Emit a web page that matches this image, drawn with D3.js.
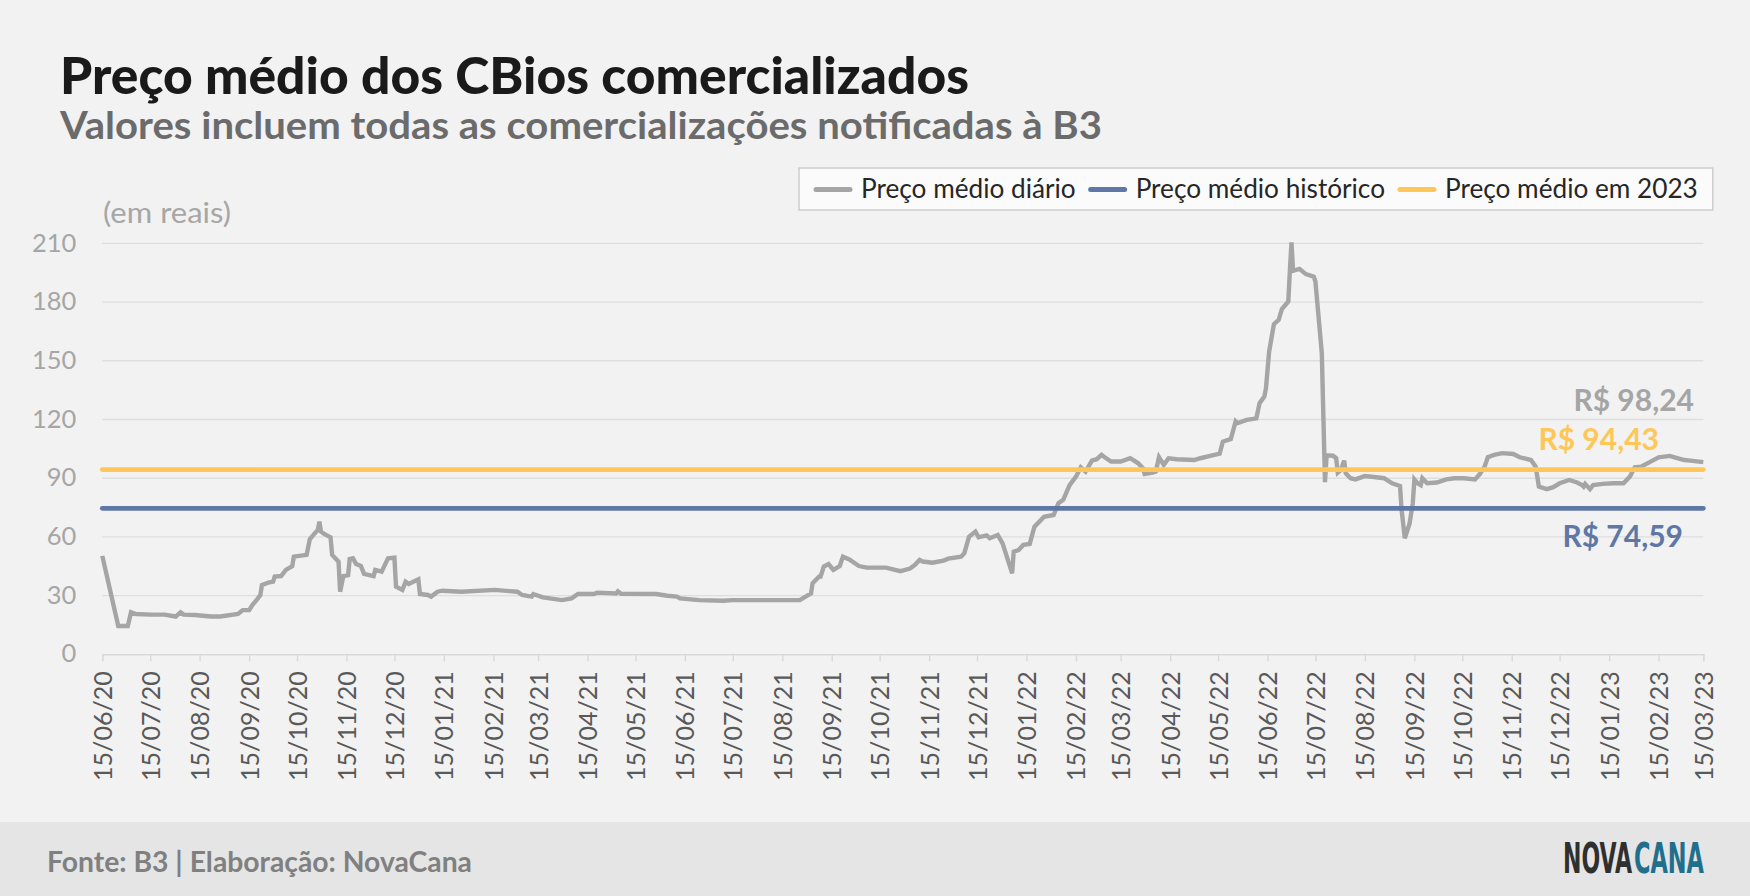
<!DOCTYPE html>
<html>
<head>
<meta charset="utf-8">
<script src="https://cdn.jsdelivr.net/npm/d3@7"></script>
<style>
  body { margin: 0; background: #f2f2f2; }
  svg { display: block; font-family: Lato, "Noto Sans", sans-serif; }
</style>
</head>
<body>
<svg id="chart" width="1750" height="896"></svg>
<script>
// preço médio diário dos CBios
var dias = [
  "2020-06-15","2020-06-25","2020-07-01","2020-07-03","2020-07-06","2020-07-15","2020-07-24","2020-07-31",
  "2020-08-03","2020-08-05","2020-08-12","2020-08-22","2020-08-28","2020-09-08","2020-09-11","2020-09-15",
  "2020-09-17","2020-09-20","2020-09-22","2020-09-23","2020-09-27","2020-09-30","2020-10-01","2020-10-05",
  "2020-10-08","2020-10-12","2020-10-13","2020-10-21","2020-10-23","2020-10-26","2020-10-28","2020-10-29",
  "2020-10-30","2020-11-01","2020-11-05","2020-11-06","2020-11-10","2020-11-11","2020-11-13","2020-11-16",
  "2020-11-17","2020-11-19","2020-11-21","2020-11-24","2020-11-26","2020-12-02","2020-12-03","2020-12-07",
  "2020-12-11","2020-12-15","2020-12-16","2020-12-20","2020-12-22","2020-12-24","2020-12-30","2020-12-31",
  "2021-01-05","2021-01-07","2021-01-11","2021-01-14","2021-01-26","2021-02-16","2021-02-25","2021-03-02",
  "2021-03-05","2021-03-11","2021-03-12","2021-03-18","2021-03-30","2021-04-05","2021-04-09","2021-04-19",
  "2021-04-21","2021-05-03","2021-05-04","2021-05-06","2021-05-28","2021-06-04","2021-06-10","2021-06-12",
  "2021-06-24","2021-07-09","2021-07-15","2021-08-26","2021-09-02","2021-09-03","2021-09-07","2021-09-08",
  "2021-09-10","2021-09-13","2021-09-16","2021-09-20","2021-09-22","2021-09-26","2021-10-02","2021-10-07",
  "2021-10-19","2021-10-28","2021-11-03","2021-11-06","2021-11-09","2021-11-11","2021-11-17","2021-11-24",
  "2021-11-27","2021-12-05","2021-12-07","2021-12-10","2021-12-14","2021-12-16","2021-12-21","2021-12-23",
  "2021-12-28","2021-12-31","2022-01-06","2022-01-07","2022-01-10","2022-01-13","2022-01-17","2022-01-20",
  "2022-01-26","2022-02-01","2022-02-04","2022-02-07","2022-02-11","2022-02-15","2022-02-18","2022-02-21",
  "2022-02-25","2022-02-28","2022-03-03","2022-03-05","2022-03-09","2022-03-15","2022-03-21","2022-03-26",
  "2022-03-29","2022-03-30","2022-04-04","2022-04-06","2022-04-08","2022-04-11","2022-04-14","2022-04-19",
  "2022-04-30","2022-05-04","2022-05-10","2022-05-16","2022-05-18","2022-05-23","2022-05-26","2022-05-27",
  "2022-06-02","2022-06-08","2022-06-10","2022-06-13","2022-06-14","2022-06-16","2022-06-19","2022-06-22",
  "2022-06-24","2022-06-28","2022-06-29","2022-06-30","2022-07-01","2022-07-05","2022-07-09","2022-07-14",
  "2022-07-15","2022-07-19","2022-07-21","2022-07-22","2022-07-26","2022-07-28","2022-07-29","2022-07-31",
  "2022-08-02","2022-08-03","2022-08-06","2022-08-09","2022-08-15","2022-08-22","2022-08-27","2022-09-01",
  "2022-09-06","2022-09-07","2022-09-09","2022-09-12","2022-09-14","2022-09-15","2022-09-17","2022-09-19",
  "2022-09-20","2022-09-23","2022-09-29","2022-10-05","2022-10-10","2022-10-16","2022-10-23","2022-10-26",
  "2022-10-29","2022-10-31","2022-11-04","2022-11-09","2022-11-16","2022-11-20","2022-11-27","2022-11-30",
  "2022-12-02","2022-12-07","2022-12-11","2022-12-15","2022-12-21","2022-12-26","2022-12-29","2022-12-30",
  "2022-12-31","2023-01-03","2023-01-05","2023-01-11","2023-01-18","2023-01-24","2023-01-28","2023-01-31",
  "2023-02-04","2023-02-10","2023-02-15","2023-02-22","2023-02-25","2023-03-03","2023-03-07","2023-03-15"
];
var precos = [
  50.3, 14.5, 14.5, 21.5, 20.6, 20.3, 20.3, 19.3,
  21.5, 20.3, 20.1, 19.3, 19.3, 20.6, 22.6, 22.6,
  25.2, 28.1, 30.3, 35.4, 36.6, 37.1, 39.7, 40.0,
  43.1, 45.1, 49.9, 50.8, 58.8, 61.8, 63.5, 67.8,
  62.7, 61.5, 59.8, 50.8, 47.3, 32.0, 40.0, 40.5,
  48.7, 49.1, 46.1, 45.1, 41.1, 40.0, 43.1, 42.2,
  49.1, 49.4, 34.6, 32.9, 37.1, 35.9, 38.3, 30.8,
  30.3, 29.5, 32.0, 32.5, 32.0, 32.9, 32.3, 32.0,
  30.3, 29.5, 30.8, 29.1, 27.7, 28.6, 30.8, 30.8,
  31.5, 31.1, 32.2, 30.9, 30.8, 29.9, 29.5, 28.6,
  27.7, 27.4, 27.7, 27.7, 31.1, 36.3, 39.7, 39.7,
  44.8, 46.1, 43.1, 45.1, 49.9, 48.5, 45.1, 44.3,
  44.3, 42.5, 43.8, 45.6, 48.2, 47.4, 46.8, 47.9,
  48.9, 49.9, 51.6, 60.1, 62.7, 59.8, 60.8, 59.3,
  61.0, 56.7, 41.4, 52.5, 53.3, 55.9, 56.4, 65.2,
  70.3, 71.2, 77.2, 78.9, 86.5, 90.8, 95.6, 93.4,
  99.0, 99.7, 101.9, 100.7, 98.5, 98.5, 100.2, 97.6,
  95.0, 92.1, 92.8, 93.4, 100.7, 96.8, 100.2, 99.7,
  99.3, 100.2, 101.4, 102.5, 108.7, 110.0, 119.0, 118.1,
  119.8, 120.6, 128.3, 131.7, 135.9, 154.7, 168.7, 170.9,
  176.5, 180.3, 195.9, 210.5, 196.0, 197.0, 194.3, 193.0,
  190.5, 153.9, 88.0, 101.7, 101.5, 100.2, 92.8, 94.2,
  99.0, 92.5, 90.0, 89.4, 91.1, 90.5, 90.0, 87.4,
  86.0, 73.7, 59.3, 66.9, 77.2, 89.4, 87.4, 86.5,
  90.0, 87.4, 87.8, 89.4, 90.0, 90.0, 89.4, 92.1,
  95.9, 100.7, 101.9, 102.8, 102.4, 100.7, 99.3, 95.9,
  85.7, 84.4, 85.4, 87.4, 89.1, 87.8, 86.5, 85.7,
  87.1, 84.4, 86.5, 87.1, 87.4, 87.4, 90.8, 95.6,
  95.9, 98.5, 100.7, 101.4, 100.7, 99.3, 99.0, 98.24
];

// médias de referência
var mediaHistorica = 74.59;
var media2023 = 94.43;
var ultimoPreco = 98.24;

var yTicks = [0, 30, 60, 90, 120, 150, 180, 210];
var xTicks = [
  "15/06/20","15/07/20","15/08/20","15/09/20","15/10/20","15/11/20","15/12/20",
  "15/01/21","15/02/21","15/03/21","15/04/21","15/05/21","15/06/21","15/07/21",
  "15/08/21","15/09/21","15/10/21","15/11/21","15/12/21","15/01/22","15/02/22",
  "15/03/22","15/04/22","15/05/22","15/06/22","15/07/22","15/08/22","15/09/22",
  "15/10/22","15/11/22","15/12/22","15/01/23","15/02/23","15/03/23"
];
var legendas = ["Preço médio diário", "Preço médio histórico", "Preço médio em 2023"];
var cores = ["#a5a5a5", "#5f77a6", "#ffc658"];

var W = 1750, H = 896;
var margin = {left: 102.3, right: W - 1703.3, top: 243.4, bottom: H - 654.3};

var parseIso = d3.timeParse("%Y-%m-%d");
var parseTick = d3.timeParse("%d/%m/%y");
var serie = dias.map(function(d, i) { return {date: parseIso(d), value: precos[i]}; });
var tickDates = xTicks.map(parseTick);

var svg = d3.select("#chart");

// fundo e rodapé
svg.append("rect").attr("width", W).attr("height", H).attr("fill", "#f2f2f2");
svg.append("rect").attr("x", 0).attr("y", 822).attr("width", W).attr("height", H - 822).attr("fill", "#e5e5e5");

var x = d3.scaleTime()
    .domain([tickDates[0], tickDates[tickDates.length - 1]])
    .range([margin.left, W - margin.right]);
var y = d3.scaleLinear()
    .domain([0, 210])
    .range([H - margin.bottom, margin.top]);

// grade horizontal
svg.append("g")
    .selectAll("line")
    .data(yTicks.slice(1))
    .enter().append("line")
    .attr("x1", x.range()[0]).attr("x2", x.range()[1])
    .attr("y1", function(d) { return y(d); })
    .attr("y2", function(d) { return y(d); })
    .attr("stroke", "#dedede")
    .attr("stroke-width", 1.4);

// eixo y (só rótulos)
var yAxis = svg.append("g")
    .attr("transform", "translate(" + margin.left + ",0)")
    .call(d3.axisLeft(y).tickValues(yTicks).tickSize(0).tickPadding(26));
yAxis.select(".domain").remove();
yAxis.selectAll("text")
    .attr("font-family", "Lato")
    .attr("font-size", 25.5)
    .attr("fill", "#a6a6a6")
    .attr("dy", "0.3em");

// eixo x
var xAxis = svg.append("g")
    .attr("transform", "translate(0," + y(0) + ")")
    .call(d3.axisBottom(x).tickValues(tickDates).tickSize(7).tickFormat(d3.timeFormat("%d/%m/%y")));
xAxis.select(".domain").attr("stroke", "#d9d9d9").attr("stroke-width", 1.4);
xAxis.selectAll(".tick line").attr("stroke", "#d9d9d9").attr("stroke-width", 1.4);
xAxis.selectAll("text")
    .attr("font-family", "Lato")
    .attr("font-size", 25)
    .attr("fill", "#595959")
    .attr("text-anchor", "end")
    .attr("transform", "translate(0,17) rotate(-90)")
    .attr("x", 0)
    .attr("y", 0)
    .attr("dy", "0.36em");

// série diária
var line = d3.line()
    .x(function(d) { return x(d.date); })
    .y(function(d) { return y(d.value); });

svg.append("path")
    .datum(serie)
    .attr("fill", "none")
    .attr("stroke", cores[0])
    .attr("stroke-width", 4.4)
    .attr("d", line);

// médias
[mediaHistorica, media2023].forEach(function(v, i) {
    svg.append("line")
        .attr("x1", x.range()[0]).attr("x2", x.range()[1])
        .attr("y1", y(v)).attr("y2", y(v))
        .attr("stroke", cores[i + 1])
        .attr("stroke-width", 4.8)
        .attr("stroke-linecap", "round");
});

// rótulos dos valores
var fmt = function(v) { return "R$ " + d3.format(".2f")(v).replace(".", ","); };
svg.append("text").attr("x", 1694).attr("y", y(ultimoPreco) - 51.5)
    .attr("text-anchor", "end").attr("font-size", 30).attr("font-weight", 700)
    .attr("fill", cores[0]).text(fmt(ultimoPreco));
svg.append("text").attr("x", 1659).attr("y", y(media2023) - 19.5)
    .attr("text-anchor", "end").attr("font-size", 30).attr("font-weight", 700)
    .attr("fill", cores[2]).text(fmt(media2023));
svg.append("text").attr("x", 1683).attr("y", y(mediaHistorica) + 38.3)
    .attr("text-anchor", "end").attr("font-size", 30).attr("font-weight", 700)
    .attr("fill", cores[1]).text(fmt(mediaHistorica));

// unidade
svg.append("text").attr("x", 103).attr("y", 223)
    .attr("font-size", 28).attr("fill", "#a6a6a6")
    .attr("textLength", 128).attr("lengthAdjust", "spacingAndGlyphs")
    .text("(em reais)");

// legenda
var leg = svg.append("g");
var legBox = leg.append("rect")
    .attr("fill", "#fbfbfb").attr("stroke", "#c4c4c4").attr("stroke-width", 1.2);
var lx = 816;
legendas.forEach(function(t, i) {
    leg.append("line")
        .attr("x1", lx).attr("x2", lx + 34)
        .attr("y1", 189.5).attr("y2", 189.5)
        .attr("stroke", cores[i]).attr("stroke-width", 5).attr("stroke-linecap", "round");
    var txt = leg.append("text").attr("x", lx + 45).attr("y", 198)
        .attr("font-size", 26.2).attr("fill", "#262626").text(t);
    lx = lx + 45 + txt.node().getComputedTextLength() + 15;
});
legBox.attr("x", 799).attr("y", 168).attr("width", lx - 799).attr("height", 42);

// títulos
svg.append("text").attr("x", 60).attr("y", 94)
    .attr("font-size", 51).attr("font-weight", 900).attr("fill", "#1a1a1a")
    .attr("textLength", 909).attr("lengthAdjust", "spacingAndGlyphs")
    .text("Preço médio dos CBios comercializados");
svg.append("text").attr("x", 60).attr("y", 138.5)
    .attr("font-size", 38).attr("font-weight", 700).attr("fill", "#6b6b6b")
    .attr("textLength", 1042).attr("lengthAdjust", "spacingAndGlyphs")
    .text("Valores incluem todas as comercializações notificadas à B3");

// rodapé
svg.append("text").attr("x", 47).attr("y", 872)
    .attr("font-size", 28.3).attr("font-weight", 700).attr("fill", "#808080")
    .text("Fonte: B3 | Elaboração: NovaCana");

// logo: texto estreitado com escala horizontal
var logoFont = "'Liberation Sans Narrow', 'DejaVu Sans Condensed', sans-serif";
function logoPart(txt, x0, largura, cor) {
    var t = svg.append("text")
        .attr("font-family", logoFont).attr("font-size", 43).attr("font-weight", 700)
        .attr("fill", cor).text(txt);
    var k = largura / t.node().getComputedTextLength();
    t.attr("transform", "translate(" + x0 + ",873) scale(" + k + ",1)");
}
logoPart("NOVA", 1563, 69, "#2f2f2f");
logoPart("CANA", 1634, 70, "#1f6f8d");
</script>
</body>
</html>
